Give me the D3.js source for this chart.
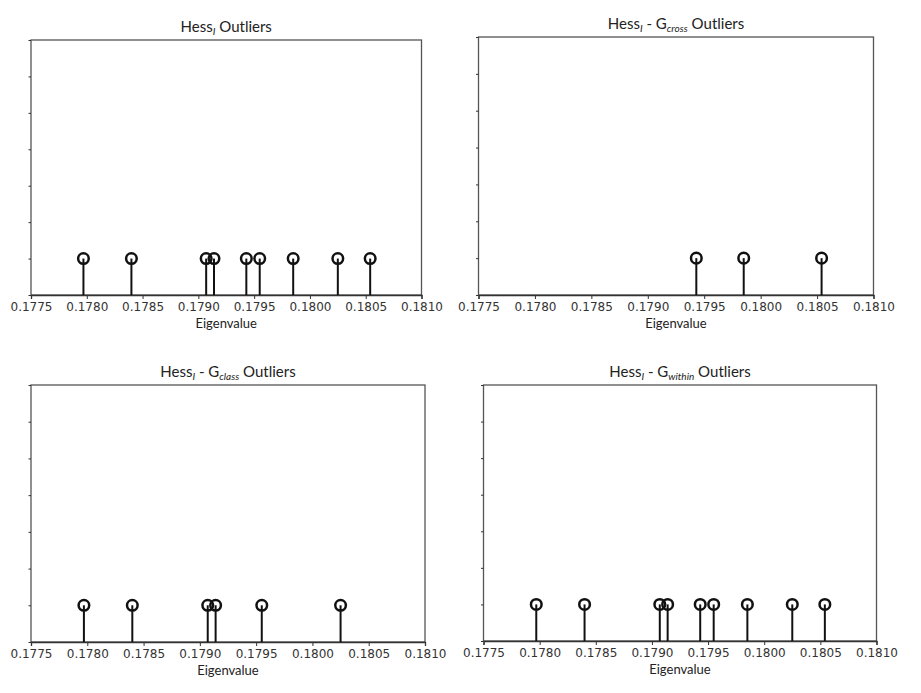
<!DOCTYPE html>
<html><head><meta charset="utf-8">
<script src="https://cdn.jsdelivr.net/npm/d3@7"></script>
<style>body{margin:0;background:#fff}svg{display:block}</style>
</head><body>
<script>
const xTicks = [0.1775, 0.1780, 0.1785, 0.1790, 0.1795, 0.1800, 0.1805, 0.1810];
const hessOutliers   = [0.17797, 0.17840, 0.17907, 0.17914, 0.17943, 0.17955, 0.17985, 0.18025, 0.18054];
const crossOutliers  = [0.17943, 0.17985, 0.18054];
const classOutliers  = [0.17797, 0.17840, 0.17907, 0.17914, 0.17955, 0.18025];
const withinOutliers = [0.17797, 0.17840, 0.17907, 0.17914, 0.17943, 0.17955, 0.17985, 0.18025, 0.18054];
const stemHeight = 1;
const yTicks = [0, 1, 2, 3, 4, 5, 6, 7];
const titleSubs = ["", "cross", "class", "within"];

const panels = [
  {data: hessOutliers,   sub: titleSubs[0], x0: 31,  x1: 421.5, y0: 40,  y1: 295},
  {data: crossOutliers,  sub: titleSubs[1], x0: 478.5, x1: 873.5, y0: 37, y1: 295},
  {data: classOutliers,  sub: titleSubs[2], x0: 31,  x1: 425, y0: 385, y1: 642},
  {data: withinOutliers, sub: titleSubs[3], x0: 483.5, x1: 876.5, y0: 385, y1: 641}
];

const svg = d3.select("body").append("svg").attr("width", 921).attr("height", 693);

panels.forEach(p => {
  const x = d3.scaleLinear().domain([0.1775, 0.1810]).range([p.x0, p.x1]);
  const y = d3.scaleLinear().domain([0, 7]).range([p.y1, p.y0]);
  const g = svg.append("g");

  g.append("rect").attr("x", p.x0).attr("y", p.y0).attr("width", p.x1 - p.x0).attr("height", p.y1 - p.y0)
    .attr("fill", "none").attr("stroke", "#555").attr("stroke-width", 1.3);

  const xa = g.append("g").attr("transform", `translate(0,${p.y1})`)
    .call(d3.axisBottom(x).tickValues(xTicks).tickFormat(d3.format(".4f")).tickSize(4).tickPadding(3));
  xa.select(".domain").attr("stroke", "#333").attr("stroke-width", 1.3);
  xa.selectAll(".tick line").attr("stroke", "#333");
  xa.selectAll("text").attr("font-family", "DejaVu Sans").attr("font-size", 12).attr("fill", "#333");

  const ya = g.append("g").attr("transform", `translate(${p.x0},0)`)
    .call(d3.axisLeft(y).tickValues(yTicks).tickFormat("").tickSize(2.5));
  ya.select(".domain").remove();
  ya.selectAll(".tick line").attr("stroke", "#333");

  g.selectAll(".stem").data(p.data).enter().append("line")
    .attr("x1", d => x(d)).attr("x2", d => x(d))
    .attr("y1", y(0)).attr("y2", y(stemHeight))
    .attr("stroke", "#111").attr("stroke-width", 2);
  g.selectAll(".mk").data(p.data).enter().append("circle")
    .attr("cx", d => x(d)).attr("cy", y(stemHeight)).attr("r", 5.3)
    .attr("fill", "none").attr("stroke", "#111").attr("stroke-width", 2.5);

  const cx = (p.x0 + p.x1) / 2;
  const t = g.append("text").attr("x", cx).attr("y", p.y0 - 8).attr("text-anchor", "middle")
    .attr("font-family", "Lato, 'Open Sans', sans-serif").attr("font-size", 15).attr("fill", "#222");
  t.append("tspan").text("Hess");
  t.append("tspan").text("I").attr("font-style", "italic").attr("font-size", 10).attr("dy", 3);
  if (p.sub) {
    t.append("tspan").text(" - G").attr("dy", -3);
    t.append("tspan").text(p.sub).attr("font-style", "italic").attr("font-size", 10).attr("dy", 3);
    t.append("tspan").text(" Outliers").attr("dy", -3);
  } else {
    t.append("tspan").text(" Outliers").attr("dy", -3);
  }

  g.append("text").attr("x", cx).attr("y", p.y1 + 33).attr("text-anchor", "middle")
    .attr("font-family", "Lato, 'Open Sans', sans-serif").attr("font-size", 13).attr("fill", "#222")
    .text("Eigenvalue");
});
</script>
</body></html>
